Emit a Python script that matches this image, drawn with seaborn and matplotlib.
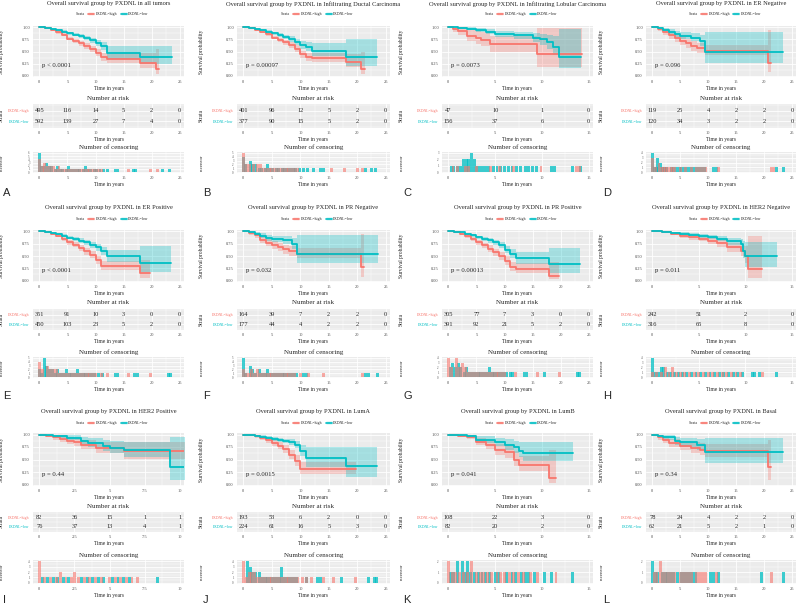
import matplotlib
matplotlib.use("Agg")
import matplotlib.pyplot as plt
import seaborn as sns
import pandas as pd
from matplotlib.lines import Line2D
from matplotlib.patches import Patch
from matplotlib.ticker import MultipleLocator

# ---- data: (time, surv, lower, upper) step points ----
A_high = [(0,1,1,1),(1,.98,.96,.99),(2,.94,.92,.96),(3,.90,.87,.93),(4,.85,.82,.88),(5,.77,.73,.81),(6,.72,.68,.76),(7,.67,.62,.72),(8,.61,.55,.67),(9,.55,.49,.61),(10,.47,.40,.55),(11,.38,.31,.46),(12,.34,.26,.44),(18,.27,.15,.47),(20.7,.13,.03,.55),(21.3,.13,.03,.55)]
A_low = [(0,1,1,1),(1,.99,.98,1),(2,.97,.96,.99),(3,.94,.92,.96),(4,.91,.89,.94),(5,.88,.85,.91),(6,.85,.82,.88),(7,.82,.78,.86),(8,.78,.74,.83),(9,.73,.68,.79),(10,.68,.62,.74),(11,.61,.54,.69),(12,.47,.34,.62),(18,.39,.23,.62),(23.6,.39,.23,.62)]
B_high = [(0,1,1,1),(1,.98,.96,.99),(2,.95,.92,.97),(3,.91,.88,.94),(4,.86,.82,.89),(5,.79,.75,.83),(6,.74,.69,.78),(7,.69,.64,.74),(8,.64,.58,.70),(9,.56,.49,.63),(10,.44,.37,.52),(11,.38,.30,.47),(12,.37,.28,.47),(18,.28,.17,.45),(20.7,.14,.04,.48),(21.3,.14,.04,.48)]
B_low = [(0,1,1,1),(1,.99,.98,1),(2,.97,.95,.99),(3,.94,.92,.97),(4,.91,.88,.94),(5,.88,.84,.91),(6,.84,.80,.88),(7,.80,.75,.85),(8,.76,.70,.82),(9,.70,.63,.77),(10,.64,.56,.72),(11,.60,.51,.70),(12,.52,.40,.67),(18,.38,.20,.75),(23.5,.38,.20,.75)]
C_high = [(0,1,1,1),(0.5,.96,.90,1),(1,.92,.84,1),(2,.83,.72,.95),(3,.78,.66,.92),(3.5,.74,.61,.90),(4.5,.66,.50,.83),(9.5,.45,.18,.98),(14.3,.45,.18,.98)]
C_low = [(0,1,1,1),(1,.99,.97,1),(2,.97,.94,1),(3,.95,.91,.99),(4,.91,.86,.96),(5,.87,.81,.93),(7,.84,.77,.91),(9,.79,.70,.88),(9.8,.75,.64,.87),(10.5,.69,.55,.85),(11.2,.60,.42,.82),(11.8,.39,.15,.97),(14.2,.39,.15,.97)]
D_high = [(0,1,1,1),(1,.96,.92,1),(2,.90,.85,.96),(3,.84,.77,.91),(4,.78,.70,.86),(5,.72,.64,.81),(6,.67,.58,.77),(7,.62,.52,.72),(8,.57,.47,.68),(9.5,.52,.43,.63),(20.7,.27,.07,.95),(21.2,.27,.07,.95)]
D_low = [(0,1,1,1),(1,.98,.95,1),(2,.94,.90,.99),(3,.90,.84,.96),(4,.86,.80,.93),(5,.82,.75,.90),(7,.79,.71,.88),(8.5,.72,.61,.84),(9.5,.49,.27,.90),(23.5,.49,.27,.90)]
E_high = [(0,1,1,1),(1,.98,.96,1),(2,.95,.92,.97),(3,.91,.88,.94),(4,.85,.81,.89),(5,.78,.73,.82),(6,.73,.68,.78),(7,.67,.61,.73),(8,.60,.53,.67),(9,.52,.45,.60),(10,.42,.34,.51),(11,.30,.22,.40),(18,.15,.05,.42),(19.7,.15,.05,.42)]
E_low = [(0,1,1,1),(1,.99,.98,1),(2,.97,.96,.99),(3,.95,.93,.97),(4,.91,.88,.94),(5,.87,.84,.90),(6,.84,.80,.88),(7,.81,.77,.86),(8,.78,.73,.83),(9,.73,.67,.79),(10,.68,.61,.75),(11,.60,.52,.69),(12,.49,.38,.63),(18,.36,.17,.70),(23.5,.36,.17,.70)]
F_high = [(0,1,1,1),(1,.96,.93,.99),(2,.92,.87,.96),(3,.83,.77,.89),(4,.77,.70,.84),(5,.72,.65,.80),(6,.68,.60,.76),(7,.64,.55,.73),(8,.60,.51,.70),(9.5,.55,.45,.66),(20.7,.27,.07,.95),(21.2,.27,.07,.95)]
F_low = [(0,1,1,1),(1,.98,.96,1),(2,.95,.91,.99),(3,.91,.86,.96),(4,.87,.81,.93),(5,.85,.78,.91),(7,.82,.74,.90),(8.5,.75,.64,.87),(9.5,.55,.35,.92),(23.6,.55,.35,.92)]
G_high = [(0,1,1,1),(1,.98,.96,1),(2,.95,.92,.97),(3,.91,.87,.94),(4,.85,.81,.89),(5,.78,.73,.83),(6,.72,.66,.77),(7,.65,.59,.72),(8,.58,.51,.65),(9,.50,.42,.58),(10,.40,.31,.49),(11,.27,.19,.37),(12,.24,.16,.35),(18,.10,.03,.38),(19.7,.10,.03,.38)]
G_low = [(0,1,1,1),(1,.99,.98,1),(2,.98,.96,.99),(3,.95,.93,.97),(4,.92,.89,.95),(5,.88,.85,.91),(6,.85,.81,.89),(7,.82,.77,.86),(8,.78,.73,.83),(9,.72,.66,.78),(10,.63,.56,.71),(11,.55,.46,.65),(12,.45,.34,.58),(18,.34,.15,.67),(23.5,.34,.15,.67)]
H_high = [(0,1,1,1),(1,.98,.96,1),(2,.95,.92,.98),(3,.91,.87,.95),(4,.88,.83,.92),(5,.85,.80,.90),(6,.80,.74,.86),(7,.76,.69,.83),(8,.68,.59,.77),(9.5,.60,.50,.71),(10,.50,.35,.70),(10.3,.24,.06,.90),(11.8,.24,.06,.90)]
H_low = [(0,1,1,1),(1,.99,.98,1),(2,.97,.95,.99),(3,.95,.93,.98),(4,.93,.90,.96),(5,.91,.87,.94),(6,.88,.84,.92),(7,.85,.80,.90),(8,.80,.73,.87),(9.5,.75,.66,.84),(9.7,.60,.45,.80),(10,.50,.28,.78),(13.4,.50,.28,.78)]
I_high = [(0,1,1,1),(0.5,.98,.95,1),(1,.95,.90,.99),(1.5,.92,.86,.97),(2,.88,.82,.95),(2.5,.85,.77,.93),(3,.80,.71,.89),(4,.74,.64,.85),(6,.67,.52,.85),(10.5,.67,.52,.85)]
I_low = [(0,1,1,1),(1,.97,.93,1),(2,.94,.89,.99),(3,.88,.81,.96),(3.5,.84,.76,.93),(4.5,.78,.68,.89),(5,.74,.63,.87),(6,.69,.55,.85),(9.3,.35,.10,.95),(10.5,.35,.10,.95)]
J_high = [(0,1,1,1),(1,.99,.97,1),(2,.97,.94,.99),(3,.94,.90,.97),(4,.89,.84,.93),(5,.83,.77,.89),(6,.78,.71,.85),(7,.72,.64,.80),(8,.60,.51,.70),(9,.48,.38,.60),(10,.31,.21,.45),(19.7,.31,.21,.45)]
J_low = [(0,1,1,1),(1,.99,.98,1),(2,.98,.96,1),(3,.96,.94,.99),(4,.94,.91,.97),(5,.92,.88,.95),(6,.90,.86,.94),(7,.88,.83,.92),(8,.85,.79,.91),(9,.80,.73,.87),(10,.68,.58,.79),(11,.53,.36,.75),(18,.38,.16,.75),(23.5,.38,.16,.75)]
K_high = [(0,1,1,1),(1,.98,.95,1),(2,.95,.91,1),(3,.86,.79,.94),(4,.80,.71,.89),(5,.70,.60,.82),(6,.65,.54,.78),(7,.50,.37,.67),(7.5,.40,.27,.57),(10.8,.14,.03,.70),(11.5,.14,.03,.70)]
K_low = [(0,1,1,1),(1,.99,.97,1),(2,.97,.93,1),(3,.90,.83,.97),(5,.85,.77,.94),(6,.80,.70,.91),(7,.75,.64,.88),(7.5,.68,.55,.85),(8,.63,.47,.86),(13.3,.63,.47,.86)]
L_high = [(0,1,1,1),(1,.95,.90,1),(2,.90,.84,.97),(3,.83,.75,.92),(5,.78,.69,.88),(7,.73,.63,.85),(8.5,.70,.59,.83),(9.5,.67,.55,.81),(20.7,.35,.10,.90),(21.2,.35,.10,.90)]
L_low = [(0,1,1,1),(1,.97,.93,1),(2,.95,.90,1),(4,.88,.80,.96),(5,.85,.76,.94),(8,.80,.70,.91),(9.5,.65,.43,.93),(23.5,.65,.43,.93)]

# ---- numbers at risk ----
A_risk = ([495, 116, 14, 5, 2, 0], [592, 139, 27, 7, 4, 0])
B_risk = ([401, 96, 12, 5, 2, 0], [377, 90, 15, 5, 2, 0])
C_risk = ([47, 10, 1, 0], [156, 37, 6, 0])
D_risk = ([119, 25, 4, 2, 2, 0], [120, 34, 3, 2, 2, 0])
E_risk = ([351, 91, 10, 3, 0, 0], [450, 103, 23, 5, 2, 0])
F_risk = ([164, 39, 7, 2, 2, 0], [177, 44, 4, 2, 2, 0])
G_risk = ([305, 77, 7, 3, 0, 0], [391, 92, 21, 5, 2, 0])
H_risk = ([242, 51, 2, 0], [316, 65, 8, 0])
I_risk = ([82, 36, 15, 1, 1], [76, 37, 13, 4, 1])
J_risk = ([193, 53, 6, 2, 0, 0], [224, 61, 16, 5, 3, 0])
K_risk = ([108, 22, 3, 0], [82, 20, 2, 0])
L_risk = ([78, 24, 4, 2, 2, 0], [62, 21, 5, 2, 1, 0])

# ---- censoring counts (time, n) ----
A_cens_high = [(0,4),(0.5,2),(1,3),(1.5,2),(2,2),(2.5,2),(3,1),(3.5,2),(4,1),(4.5,1),(5,1),(5.5,1),(6,1),(6.5,1),(7,1),(7.5,1),(8,1),(8.5,1),(9,1),(9.5,1),(10,1),(10.5,1),(11,1),(15.8,1),(19.8,1),(21,1)]
A_cens_low = [(0,6),(0.3,2),(0.8,2),(1.2,3),(1.8,2),(2.2,2),(2.8,1),(3.2,2),(3.8,1),(4.2,1),(4.8,1),(5.2,2),(5.8,1),(6.2,1),(6.8,1),(7.2,1),(7.8,1),(8.2,2),(8.8,1),(9.2,1),(9.8,1),(10.2,1),(10.8,1),(11.5,1),(12.2,1),(13.5,1),(14,1),(16.8,1),(17.2,1),(22,1),(23.2,1)]
B_cens_high = [(0,5),(0.5,2),(1,2),(1.8,2),(2.5,2),(3,2),(3.5,1),(4,1),(4.5,1),(5,1),(5.5,1),(6,1),(6.5,1),(7,1),(7.5,1),(8,1),(8.5,1),(9,1),(9.5,1),(15.5,1),(17.8,1),(20,1),(21,1)]
B_cens_low = [(0,4),(0.3,2),(1.2,3),(1.6,2),(2.2,2),(2.8,1),(3.2,1),(3.8,1),(4.2,2),(4.8,1),(5.2,1),(5.8,1),(6.2,1),(6.8,1),(7.2,1),(7.8,1),(8.2,1),(8.8,1),(9.2,1),(9.8,1),(10.5,1),(11.2,1),(12.3,1),(13.5,1),(14,1),(21.5,1),(22.5,1),(23.2,1)]
C_cens_high = [(0.5,1),(1,1),(1.8,1),(2.2,1),(3,1),(4.5,1),(5.5,1),(7,1),(9.9,1),(13.7,1),(14,1)]
C_cens_low = [(0.3,1),(0.6,1),(1,1),(1.3,1),(1.6,2),(1.9,2),(2.2,2),(2.5,3),(2.8,2),(3.1,1),(3.4,1),(3.7,1),(4,1),(4.3,1),(4.8,1),(5.2,1),(5.6,1),(6,1),(6.4,1),(6.8,1),(7.3,1),(7.7,1),(8.2,1),(8.6,1),(9,1),(9.4,1),(11,1),(11.3,1),(13.3,1),(14.1,1)]
D_cens_high = [(0,3),(0.5,1),(1.2,2),(1.6,1),(2,1),(2.4,1),(2.8,1),(3.2,1),(3.6,1),(4,1),(5,1),(6,1),(7,1),(8,1),(8.5,1),(9,1),(9.5,1),(11.8,1),(21.3,1),(21.8,1)]
D_cens_low = [(0,4),(0.4,1),(0.8,1),(1,3),(1.4,2),(1.8,1),(2.2,1),(2.6,1),(3.4,1),(3.8,1),(4.4,1),(4.8,1),(5.3,1),(5.8,1),(6.3,1),(6.8,1),(7.3,1),(7.8,1),(8.3,1),(8.8,1),(9.3,1),(11,1),(11.5,1),(22.3,1),(23.5,1)]
E_cens_high = [(0,4),(0.5,2),(1.5,3),(2,2),(2.5,2),(3,2),(3.5,1),(4,1),(4.5,1),(5,1),(5.5,1),(6,1),(6.5,1),(7,1),(7.5,1),(8,1),(8.5,1),(9,1),(9.5,1),(10,1),(11,1),(12.2,1),(15.8,1),(19.8,1)]
E_cens_low = [(0,2),(0.4,1),(1,5),(1.3,3),(1.8,2),(2.3,2),(2.8,1),(3.3,2),(3.8,1),(4.3,1),(4.8,2),(5.3,1),(5.8,1),(6.3,1),(6.8,2),(7.3,1),(7.8,1),(8.3,1),(8.8,1),(9.3,1),(9.8,1),(10.5,1),(11.2,1),(13.5,1),(14,1),(17,1),(17.4,1),(23,1),(23.4,1)]
F_cens_high = [(0,2),(0.5,1),(1,1),(1.5,2),(2,1),(2.5,2),(3,1),(3.5,1),(4,1),(4.5,1),(5,1),(5.5,1),(6,1),(6.5,1),(7,1),(7.5,1),(8,1),(8.5,1),(9,1),(10,1),(11.5,1),(14,1),(21,1)]
F_cens_low = [(0,5),(0.4,1),(1.2,3),(1.6,2),(2.2,1),(2.8,2),(3.3,1),(3.8,1),(4.3,2),(4.8,1),(5.3,1),(5.8,1),(6.3,1),(6.8,1),(7.3,1),(7.8,1),(8.3,1),(8.8,1),(9.3,1),(10.5,1),(11,1),(21.5,1),(22,1),(23.5,1)]
G_cens_high = [(0,4),(0.5,2),(1.5,4),(2,2),(2.5,3),(3,2),(3.5,1),(4,1),(4.5,1),(5,1),(5.5,1),(6,1),(6.5,1),(7,1),(7.5,1),(8,1),(8.5,1),(9,1),(9.5,1),(10,1),(12,1),(15.8,1),(19.8,1)]
G_cens_low = [(0.3,2),(0.8,3),(1.2,2),(1.8,3),(2.2,2),(2.8,1),(3.3,2),(3.8,1),(4.3,1),(4.8,1),(5.3,1),(5.8,1),(6.3,1),(6.8,1),(7.3,2),(7.8,1),(8.3,1),(8.8,1),(9.3,1),(9.8,1),(10.3,1),(11,1),(11.5,1),(13.5,1),(14,1),(17.2,1),(23,1),(23.4,1)]
H_cens_high = [(0,1),(0.5,1),(1,1),(1.4,2),(1.8,1),(2.2,2),(2.6,1),(3,1),(3.5,1),(4,1),(4.5,1),(5,1),(5.5,1),(6,1),(6.5,1),(7,1),(7.5,1),(8,1),(8.5,1),(9,1),(9.5,1),(11.8,1)]
H_cens_low = [(0,4),(0.3,1),(0.7,1),(1,2),(1.2,2),(1.6,1),(2,1),(2.4,1),(2.8,1),(3.2,1),(3.7,1),(4.2,1),(4.7,1),(5.2,1),(5.7,1),(6.2,1),(6.7,1),(7.2,1),(7.7,1),(8.2,1),(8.7,1),(9.2,1),(9.7,1),(10.8,1),(11,1),(11.5,1),(13.4,1)]
I_cens_high = [(0,4),(0.4,1),(0.8,1),(1.2,1),(1.5,2),(1.9,1),(2.3,1),(2.5,2),(2.8,1),(3.2,1),(3.6,1),(4,1),(4.4,1),(5,1),(5.4,1),(5.8,1),(6.2,1),(6.6,1),(7,1)]
I_cens_low = [(0.2,1),(0.6,1),(1,1),(1.3,1),(1.7,1),(2.1,1),(3,1),(3.4,1),(3.8,1),(4.2,1),(4.6,1),(5.2,1),(5.6,1),(6,1),(6.4,1),(8.4,1)]
J_cens_high = [(0,4),(0.5,1),(1,2),(1.5,2),(2,2),(2.5,1),(3,1),(3.5,1),(4,1),(4.5,1),(5,1),(5.5,1),(6,1),(6.5,1),(7,1),(7.5,1),(8,1),(8.5,1),(9,1),(9.5,1),(10.3,1),(11,1),(12,1),(14,1),(15.8,1),(19.7,1)]
J_cens_low = [(0.8,4),(1.2,3),(1.6,2),(2.2,2),(2.8,2),(3.3,1),(3.8,1),(4.3,1),(4.8,1),(5.3,1),(5.8,1),(6.3,1),(6.7,3),(7.3,1),(7.8,1),(8.3,1),(8.8,1),(9.3,1),(11,1),(13,1),(13.5,1),(17.3,1),(22,1),(23,1),(23.3,1)]
K_cens_high = [(0,2),(0.4,1),(0.8,1),(1.2,1),(1.6,1),(2,1),(2.5,2),(3,1),(3.4,1),(3.8,1),(4.2,1),(4.6,1),(5.2,1),(5.6,1),(6,1),(6.5,1),(7,1),(7.5,1),(8,1),(8.8,1),(9.5,1),(11.5,1)]
K_cens_low = [(0.2,1),(0.6,1),(1,2),(1.5,2),(1.8,1),(2,2),(2.4,1),(2.8,1),(3.2,1),(3.6,1),(4,1),(4.4,1),(5,1),(5.4,1),(6.2,1),(6.8,1),(7.2,1),(7.8,1),(8.2,1),(8.6,1),(9.2,1),(10.3,1),(11,1),(13.3,1)]
L_cens_high = [(0.3,1),(0.8,1),(1.5,2),(2,1),(2.5,1),(3,1),(3.5,1),(4,1),(5,1),(5.5,1),(6,1),(6.5,1),(7,1),(8,1),(8.5,1),(9,1),(9.5,1),(11.5,1),(21.3,1)]
L_cens_low = [(0,2),(0.5,1),(1,1),(1.8,1),(2.3,1),(2.8,1),(3.3,1),(3.8,1),(4.5,1),(5.2,1),(5.8,1),(6.3,1),(6.8,1),(7.3,1),(7.8,1),(10.5,1),(11,1),(11.8,1),(19.5,1),(23.5,1)]

letters = list("ABCDEFGHIJKL")
subsets = ["all tumors", "Infiltrating Ductal Carcinoma", "Infiltrating Lobular Carcinoma",
           "ER Negative", "ER Positive", "PR Negative", "PR Positive", "HER2 Negative",
           "HER2 Positive", "LumA", "LumB", "Basal"]
pvals = ["p < 0.0001", "p = 0.00097", "p = 0.0073", "p = 0.096", "p < 0.0001", "p = 0.032",
         "p = 0.00013", "p = 0.011", "p = 0.44", "p = 0.0015", "p = 0.041", "p = 0.34"]
curves = [(A_high, A_low), (B_high, B_low), (C_high, C_low), (D_high, D_low), (E_high, E_low),
          (F_high, F_low), (G_high, G_low), (H_high, H_low), (I_high, I_low), (J_high, J_low),
          (K_high, K_low), (L_high, L_low)]
risks = [A_risk, B_risk, C_risk, D_risk, E_risk, F_risk, G_risk, H_risk, I_risk, J_risk, K_risk, L_risk]
censors = [(A_cens_high, A_cens_low), (B_cens_high, B_cens_low), (C_cens_high, C_cens_low),
           (D_cens_high, D_cens_low), (E_cens_high, E_cens_low), (F_cens_high, F_cens_low),
           (G_cens_high, G_cens_low), (H_cens_high, H_cens_low), (I_cens_high, I_cens_low),
           (J_cens_high, J_cens_low), (K_cens_high, K_cens_low), (L_cens_high, L_cens_low)]
breaks_25 = [0, 5, 10, 15, 20, 25]
breaks_15 = [0, 5, 10, 15]
breaks_10 = [0, 2.5, 5, 7.5, 10]
breaks = [breaks_25, breaks_25, breaks_15, breaks_25, breaks_25, breaks_25,
          breaks_25, breaks_15, breaks_10, breaks_25, breaks_15, breaks_25]

RED, TEAL = "#F8766D", "#00BFC4"

# ---- layout (pixels) ----
W, H = 800, 606
COLS = [(33, 184), (237, 390), (442, 593), (646, 796)]
ROWS = [dict(title=4, leg=14, km=(26, 77), rt=99, risk=(104, 128), ct=147, cens=(152, 173), letter=193),
        dict(title=207, leg=219, km=(230, 282), rt=303, risk=(309, 330), ct=352, cens=(357, 378), letter=396),
        dict(title=412, leg=423, km=(433, 486), rt=507, risk=(512, 532), ct=555, cens=(560, 584), letter=600)]

sns.set_theme(style="darkgrid", rc={"axes.facecolor": "#EBEBEB", "grid.color": "white",
                                    "axes.edgecolor": "#EBEBEB"})
plt.rcParams["font.family"] = ["Liberation Serif", "DejaVu Serif"]

fig = plt.figure(figsize=(8, 6.06), dpi=100)


def add_ax(x0, x1, y0, y1):
    return fig.add_axes([x0 / W, 1 - y1 / H, (x1 - x0) / W, (y1 - y0) / H])


def style(ax, xb, xlim, xlabel=True):
    ax.set_xlim(*xlim)
    ax.set_xticks(xb)
    ax.set_xticklabels([f"{b:g}" for b in xb])
    step = xb[1] - xb[0]
    ax.xaxis.set_minor_locator(MultipleLocator(step / 2))
    ax.grid(which="major", color="white", lw=0.6)
    ax.grid(which="minor", color="white", lw=0.3)
    ax.tick_params(which="major", length=1.5, width=0.5, color="#333333", labelsize=3.2,
                   pad=0.8, labelcolor="#4D4D4D")
    ax.tick_params(which="minor", length=0)
    for s in ax.spines.values():
        s.set_visible(False)
    if xlabel:
        ax.set_xlabel("Time in years", fontsize=4, labelpad=1)


for i in range(12):
    r, c = divmod(i, 4)
    L, Rw = ROWS[r], COLS[c]
    x0, x1 = Rw
    cx = (x0 + x1) / 2
    xb = breaks[i]
    span = xb[-1] - xb[0]
    xlim = (-0.045 * span, xb[-1] + 0.03 * span)
    lab_x = (c * 200 + 4 - x0) / (x1 - x0)

    fig.text(cx / W, 1 - L["title"] / H, "Overall survival group by PXDNL in " + subsets[i],
             ha="center", va="center", fontsize=4.6)

    # survival curves
    ax = add_ax(x0, x1, *L["km"])
    for pts, col in zip(curves[i], (RED, TEAL)):
        df = pd.DataFrame(pts, columns=["time", "surv", "lo", "hi"])
        ax.fill_between(df["time"], df["lo"], df["hi"], step="post", color=col, alpha=0.3, lw=0)
        sns.lineplot(data=df, x="time", y="surv", drawstyle="steps-post", color=col,
                     lw=1.3, estimator=None, sort=False, ax=ax)
    style(ax, xb, xlim)
    ax.set_ylim(-0.03, 1.03)
    ax.set_yticks([0, 0.25, 0.5, 0.75, 1.0])
    ax.set_yticklabels(["0.00", "0.25", "0.50", "0.75", "1.00"])
    ax.yaxis.set_minor_locator(MultipleLocator(0.125))
    ax.set_ylabel("Survival probability", fontsize=4)
    ax.yaxis.set_label_coords(lab_x, 0.5)
    ax.text(0.06, 0.22, pvals[i], transform=ax.transAxes, fontsize=4.8, va="center")
    handles = [Patch(visible=False),
               (Patch(fc=RED, alpha=0.3), Line2D([], [], color=RED, lw=1.2)),
               (Patch(fc=TEAL, alpha=0.3), Line2D([], [], color=TEAL, lw=1.2))]
    ax.legend(handles, ["Strata", "PXDNL=high", "PXDNL=low"], ncol=3, frameon=False,
              fontsize=2.8, handlelength=1.6, handleheight=0.9, columnspacing=0.8,
              handletextpad=0.4, loc="center", bbox_to_anchor=(cx / W, 1 - L["leg"] / H),
              bbox_transform=fig.transFigure)

    # number at risk
    fig.text(cx / W, 1 - L["rt"] / H, "Number at risk", ha="center", va="center", fontsize=5)
    ax = add_ax(x0, x1, *L["risk"])
    high_n, low_n = risks[i]
    for b, n in zip(xb, high_n):
        ax.text(b, 1, str(n), ha="center", va="center", fontsize=4.6)
    for b, n in zip(xb, low_n):
        ax.text(b, 0, str(n), ha="center", va="center", fontsize=4.6)
    style(ax, xb, xlim)
    ax.set_ylim(-0.6, 1.6)
    ax.set_yticks([1, 0])
    ax.set_yticklabels(["PXDNL=high", "PXDNL=low"])
    ax.tick_params(axis="y", labelsize=2.8)
    for t, col in zip(ax.get_yticklabels(), (RED, TEAL)):
        t.set_color(col)
    ax.yaxis.set_minor_locator(MultipleLocator(0.5))
    ax.set_ylabel("Strata", fontsize=4)
    ax.yaxis.set_label_coords(lab_x, 0.5)

    # number of censoring
    fig.text(cx / W, 1 - L["ct"] / H, "Number of censoring", ha="center", va="center", fontsize=5)
    ax = add_ax(x0, x1, *L["cens"])
    width = span / 48
    ymax = 0
    for pts, col, a in zip(censors[i][::-1], (TEAL, RED), (0.75, 0.6)):
        df = pd.DataFrame(pts, columns=["time", "n"])
        ax.bar(df["time"], df["n"], width=width, color=col, alpha=a, lw=0)
        ymax = max(ymax, df["n"].max())
    style(ax, xb, xlim)
    ax.set_ylim(-0.05 * ymax, ymax * 1.05)
    ax.set_yticks(range(0, ymax + 1))
    ax.tick_params(axis="y", labelsize=2.2)
    ax.yaxis.set_minor_locator(MultipleLocator(0.5))
    ax.set_ylabel("n.censor", fontsize=3.5)
    ax.yaxis.set_label_coords(lab_x, 0.5)

    fig.text((c * 200 + 3) / W, 1 - L["letter"] / H, letters[i], fontsize=8,
             family="Liberation Sans", va="center", ha="left")

fig.savefig("out.png", dpi=100)
